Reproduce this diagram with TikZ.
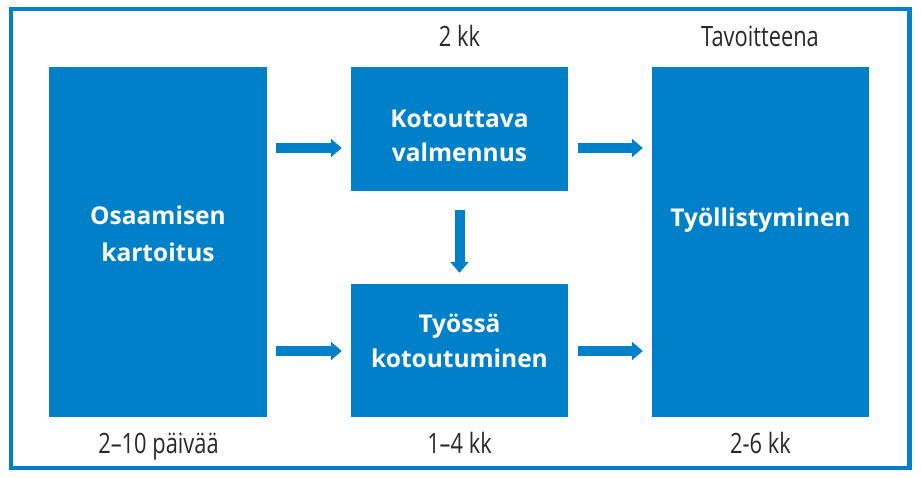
\documentclass[tikz,border=0pt]{standalone}
\usepackage{fontspec}
\setmainfont{Open Sans}
\newfontfamily\condfont[FakeStretch=0.78]{Open Sans}
\usetikzlibrary{arrows.meta}
\definecolor{cblue}{RGB}{0,128,200}
\definecolor{ctext}{RGB}{40,40,40}
\tikzset{
  box/.style={fill=cblue, draw=none, inner sep=0pt, minimum width=#1},
  box/.default=218pt,
  arr/.style={draw=cblue, line width=10pt, -{Triangle[width=18pt,length=11pt]}},
  btxt/.style={text=white, font=\fontsize{24.5}{28}\selectfont\bfseries, inner sep=0pt, anchor=base},
  ltxt/.style={text=ctext, font=\condfont\fontsize{28}{32}\selectfont, inner sep=0pt, anchor=base}
}
\begin{document}
\begin{tikzpicture}[x=1pt,y=-1pt]
\useasboundingbox (0,0) rectangle (921,478);
\draw[draw=cblue, line width=4.5pt] (11,9) rectangle (909.5,468);
% boxes
\node[box, minimum height=350pt] (osaa) at (158,242) {};
\node[box=217pt, minimum height=124pt] (kotv) at (459.5,129) {};
\node[box=217pt, minimum height=133pt] (tyok) at (459.5,350.5) {};
\node[box=217pt, minimum height=350pt] (tyol) at (760.5,242) {};
% box texts
\node[btxt] (t1a) at (158,225) {Osaamisen};
\node[btxt] (t1b) at (158,262) {kartoitus};
\node[btxt] (t2a) at (459.5,128) {Kotouttava};
\node[btxt] (t2b) at (459.5,162) {valmennus};
\node[btxt] (t3a) at (459.5,333) {Työssä};
\node[btxt] (t3b) at (459.5,367) {kotoutuminen};
\node[btxt] (t4) at (760.5,227) {Työllistyminen};
% labels
\node[ltxt] (l1) at (459.5,47) {2 kk};
\node[ltxt] (l2) at (760,47) {Tavoitteena};
\node[ltxt] (l3) at (158.5,453) {2–10 päivää};
\node[ltxt] (l4) at (459.5,453) {1–4 kk};
\node[ltxt] (l5) at (760.5,453) {2-6 kk};
% arrows
\draw[arr, shorten <=9pt, shorten >=9pt] (osaa.east |- 0,148) -- (kotv.west |- 0,148);
\draw[arr, shorten <=9pt, shorten >=9pt] (osaa.east |- 0,351) -- (tyok.west |- 0,351);
\draw[arr, shorten <=9.5pt, shorten >=9pt] (kotv.east |- 0,148) -- (tyol.west |- 0,148);
\draw[arr, shorten <=9.5pt, shorten >=9pt] (tyok.east |- 0,351) -- (tyol.west |- 0,351);
\draw[arr, shorten <=19pt, shorten >=11pt] (kotv.south) -- (tyok.north);
\end{tikzpicture}
\end{document}
